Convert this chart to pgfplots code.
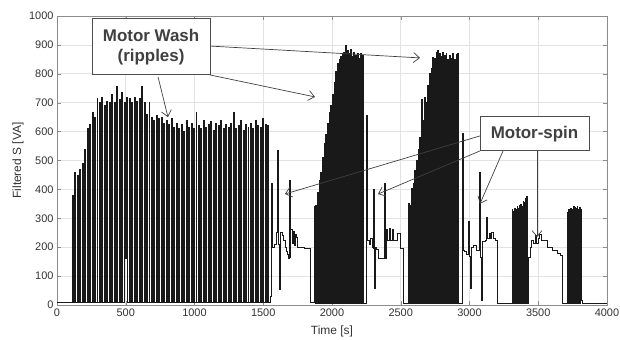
\documentclass[border=0pt]{standalone}
\usepackage{pgfplots}
\pgfplotsset{compat=1.18}
\usepackage{fontspec}
\setmainfont{Liberation Sans}
\usetikzlibrary{arrows.meta}
\definecolor{txt}{HTML}{333333}
\definecolor{frame}{HTML}{8C8C8C}
\definecolor{gridc}{HTML}{E3E3E3}
\begin{document}
\begin{tikzpicture}
\path[use as bounding box] (0,0) rectangle (620bp,340bp);
\begin{axis}[
  at={(57bp,35bp)}, anchor=south west,
  scale only axis, width=550bp, height=289bp,
  xmin=0, xmax=4000, ymin=0, ymax=1000,
  xtick={0,500,...,4000}, ytick={0,100,...,1000},
  grid=major, grid style={gridc, line width=0.6pt},
  axis line style={frame, line width=0.7pt},
  tick style={frame}, tick align=inside, major tick length=4bp,
  ticklabel style={font=\fontsize{11}{13}\selectfont, text=txt},
  /pgf/number format/assume math mode=true,
  /pgf/number format/1000 sep={},
  xlabel={Time [s]}, ylabel={Filtered S [VA]},
  label style={font=\fontsize{12}{14}\selectfont, text=txt},
  xlabel style={at={(axis description cs:0.5,-0.09)}, anchor=center},
  ylabel style={at={(axis description cs:-0.071,0.5)}, anchor=center},
]
\addplot[const plot, black!90, line width=0.7pt] coordinates {
(0,8) (60,9) (100,10)
(110,380) (117,10) (128,460) (135,9) (146,450) (153,10) (164,470) (171,8) (182,490) (189,9) (200,540) (207,8) (218,610) (225,9) (236,625) (243,8) (254,665) (261,9) (272,650) (279,8) (290,715) (297,9) (308,700) (315,8) (326,720) (333,9) (344,690) (351,8) (362,705) (369,9) (380,700) (387,8) (398,730) (405,9) (416,700) (423,8) (434,758) (441,9) (452,710) (459,8) (470,735) (477,9) (488,700) (495,160) (506,720) (513,9) (524,715) (531,8) (542,700) (549,9) (560,720) (567,8) (578,705) (585,9) (596,715) (603,8) (614,755) (621,9) (632,700) (639,8) (650,660) (657,9) (668,700) (675,8) (686,650) (693,9) (704,640) (711,8) (722,655) (729,9) (740,645) (747,8) (758,650) (765,9) (776,630) (783,8) (794,640) (801,9) (812,625) (819,8) (830,645) (837,9) (848,615) (855,8) (866,630) (873,9) (884,610) (891,8) (902,625) (909,9) (920,600) (927,8) (938,640) (945,9) (956,615) (963,8) (974,630) (981,9) (992,610) (999,8) (1010,665) (1017,9) (1028,620) (1035,8) (1046,610) (1053,9) (1064,640) (1071,8) (1082,615) (1089,9) (1100,625) (1107,8) (1118,635) (1125,9) (1136,605) (1143,8) (1154,630) (1161,9) (1172,620) (1179,8) (1190,640) (1197,9) (1208,610) (1215,8) (1226,625) (1233,9) (1244,615) (1251,8) (1262,630) (1269,9) (1280,665) (1287,8) (1298,610) (1305,9) (1316,620) (1323,8) (1334,640) (1341,9) (1352,605) (1359,8) (1370,625) (1377,9) (1388,615) (1395,8) (1406,630) (1413,9) (1424,610) (1431,8) (1442,640) (1449,9) (1460,620) (1467,8) (1478,615) (1485,9) (1496,645) (1503,8) (1514,625) (1521,9) (1532,620) (1539,10)
(1550,30) (1560,420) (1566,200) (1580,210) (1594,250) (1604,536) (1610,210) (1616,55) (1624,250) (1638,240) (1648,225) (1658,200) (1668,185) (1678,175) (1686,160) (1690,432) (1694,165) (1700,262) (1708,215) (1716,255) (1724,205) (1732,245) (1740,235) (1750,200) (1760,198) (1800,195) (1840,10)
(1870,340) (1876,5) (1882,345) (1888,5) (1894,390) (1900,5) (1906,430) (1912,5) (1918,460) (1924,5) (1930,510) (1936,5) (1942,560) (1948,5) (1954,590) (1960,5) (1966,630) (1972,5) (1978,665) (1984,5) (1990,690) (1996,5) (2002,730) (2008,5) (2014,770) (2020,5) (2026,810) (2032,5) (2038,835) (2044,5) (2050,850) (2056,5) (2062,860) (2068,5) (2074,870) (2080,5) (2086,875) (2092,5) (2098,900) (2104,5) (2110,880) (2116,5) (2122,870) (2128,5) (2134,885) (2140,5) (2146,860) (2152,5) (2158,875) (2164,5) (2170,865) (2176,5) (2182,870) (2188,5) (2194,855) (2200,5) (2206,870) (2212,5) (2218,865) (2226,5)
(2252,655) (2256,225) (2268,210) (2280,230) (2290,200) (2300,197) (2304,400) (2308,58) (2314,200) (2326,193) (2334,160) (2382,422) (2386,160) (2396,262) (2406,225) (2416,265) (2426,225) (2436,262) (2446,225) (2458,222) (2478,248) (2498,195) (2516,5)
(2553,352) (2559,5) (2565,345) (2571,5) (2577,405) (2583,5) (2589,420) (2595,5) (2601,465) (2607,5) (2613,500) (2619,5) (2625,540) (2631,5) (2637,580) (2643,5) (2649,710) (2655,5) (2661,640) (2667,5) (2673,720) (2679,5) (2685,700) (2691,5) (2697,760) (2703,5) (2709,800) (2715,5) (2721,820) (2727,5) (2733,858) (2739,5) (2745,855) (2751,5) (2757,875) (2763,5) (2769,882) (2775,5) (2781,870) (2787,5) (2793,860) (2799,5) (2805,875) (2811,5) (2817,865) (2823,5) (2829,870) (2835,5) (2841,850) (2847,5) (2853,865) (2859,5) (2865,855) (2871,5) (2877,870) (2883,5) (2889,850) (2895,5) (2901,868) (2907,5) (2913,870) (2921,5)
(2951,595) (2955,190) (2966,185) (2978,175) (2988,290) (2996,170) (3004,58) (3012,200) (3030,205) (3050,190) (3072,460) (3078,166) (3086,17) (3096,220) (3118,225) (3124,305) (3130,230) (3142,248) (3152,232) (3162,250) (3172,232) (3186,225) (3206,5)
(3309,330) (3314,5) (3318,325) (3323,5) (3327,335) (3332,5) (3336,330) (3341,5) (3345,340) (3350,5) (3354,335) (3359,5) (3363,345) (3368,5) (3372,350) (3377,5) (3381,340) (3386,5) (3390,360) (3395,5) (3399,355) (3404,5) (3408,370) (3413,5) (3417,376) (3423,5) (3426,166)
(3440,200) (3452,225) (3466,215) (3478,240) (3488,215) (3498,230) (3510,245) (3522,225) (3540,222) (3564,200) (3600,190) (3640,178) (3660,173) (3672,5)
(3709,320) (3714,5) (3718,330) (3723,5) (3727,325) (3732,5) (3736,335) (3741,5) (3745,330) (3750,5) (3754,340) (3759,5) (3763,338) (3768,5) (3772,335) (3777,5) (3781,340) (3786,5) (3790,332) (3795,5) (3799,338) (3804,5) (3808,330) (3815,15) (3822,5) (4000,5)
};
\begin{scope}[black!75, line width=0.7pt, arrows={-Straight Barb[length=6bp,width=10bp]}]
\draw (axis cs:1113,896) -- (axis cs:2640,855);
\draw (axis cs:1113,796) -- (axis cs:1876,720);
\draw (axis cs:735,789) -- (axis cs:807,650);
\draw (axis cs:3076,585) -- (axis cs:1658,384);
\draw (axis cs:3076,533) -- (axis cs:2335,384);
\draw (axis cs:3244,533) -- (axis cs:3076,350);
\draw (axis cs:3491,533) -- (axis cs:3491,235);
\end{scope}
\node[draw=black!70, line width=0.9pt, fill=white, minimum width=118bp, minimum height=56bp, align=center, inner sep=0pt, font=\fontsize{17}{20}\selectfont\bfseries, text=black!75] at (axis cs:684,893) {Motor Wash\\(ripples)};
\node[draw=black!70, line width=0.9pt, fill=white, minimum width=109bp, minimum height=34bp, inner sep=0pt, font=\fontsize{17}{20}\selectfont\bfseries, text=black!75] at (axis cs:3473,592) {Motor-spin};
\end{axis}
\end{tikzpicture}
\end{document}
